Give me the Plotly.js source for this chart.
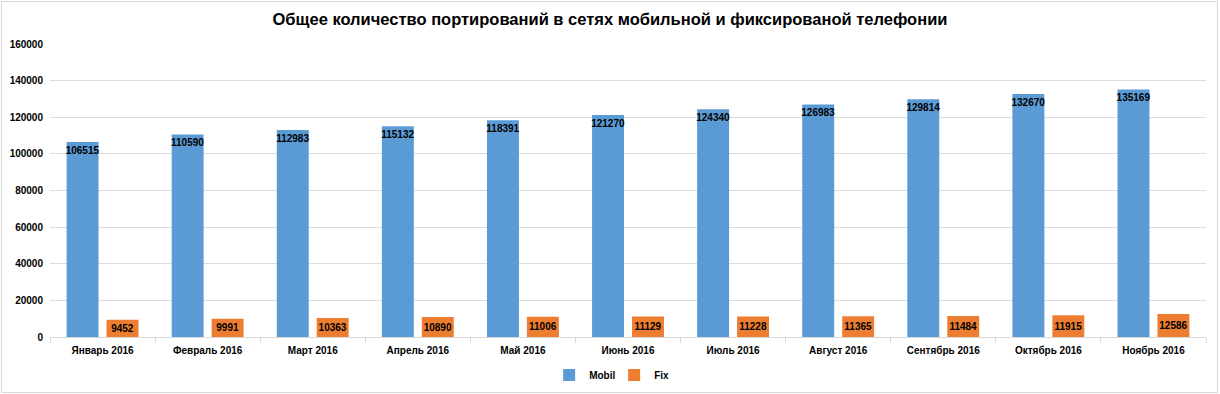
<!DOCTYPE html>
<html>
<head>
<meta charset="utf-8">
<script src="https://cdn.plot.ly/plotly-3.0.1.min.js"></script>
<style>
html,body{margin:0;padding:0;background:#fff;}
#chart{width:1220px;height:394px;}
#frame{position:absolute;left:1px;top:1px;width:1215px;height:390px;border:1px solid #d9d9d9;pointer-events:none;}
</style>
</head>
<body>
<div id="chart"></div>
<div id="frame"></div>
<script>
const categories = ["Январь 2016","Февраль 2016","Март 2016","Апрель 2016","Май 2016","Июнь 2016","Июль 2016","Август 2016","Сентябрь 2016","Октябрь 2016","Ноябрь 2016"];
const mobil = [106515,110590,112983,115132,118391,121270,124340,126983,129814,132670,135169];
const fix = [9452,9991,10363,10890,11006,11129,11228,11365,11484,11915,12586];
const yTicks = [0,20000,40000,60000,80000,100000,120000,140000,160000];

const FONT = "Liberation Sans, Arial, sans-serif";
const lblFont = {family: FONT, size: 10, color: "#000", weight: "bold"};

const traces = [
  {
    type: "bar", name: "Mobil", x: categories, y: mobil,
    text: mobil.map(String), textposition: "inside", insidetextanchor: "end",
    constraintext: "none", textangle: 0, textfont: lblFont,
    marker: {color: "#5B9BD5"}, hoverinfo: "none"
  },
  {
    type: "bar", name: "Fix", x: categories, y: fix,
    text: fix.map(String), textposition: "inside", insidetextanchor: "middle",
    constraintext: "none", textangle: 0, textfont: lblFont,
    marker: {color: "#ED7D31"}, hoverinfo: "none"
  }
];

const layout = {
  width: 1220, height: 394,
  margin: {l: 50, r: 14, t: 44, b: 57},
  paper_bgcolor: "#fff", plot_bgcolor: "#fff",
  title: {text: "Общее количество портирований в сетях мобильной и фиксированой телефонии",
          font: {family: FONT, size: 16.5, color: "#000", weight: "bold"},
          x: 0.5, xanchor: "center", y: 0.952, yanchor: "middle"},
  barmode: "group", bargap: 0.24, bargroupgap: 0.2,
  xaxis: {
    automargin: false,
    tickson: "boundaries", ticks: "outside", ticklen: 5, tickcolor: "#d9d9d9",
    showline: true, linecolor: "#d9d9d9", showgrid: false, ticklabelstandoff: 4,
    tickfont: {family: FONT, size: 10, color: "#000", weight: "bold"}
  },
  yaxis: {
    automargin: false,
    range: [0, 160000], tickvals: yTicks, ticktext: yTicks.map(String),
    showgrid: true, gridcolor: "#dcdcdc", zeroline: false, showline: false,
    tickfont: {family: FONT, size: 10, color: "#000", weight: "bold"},
    ticks: "", ticklabelstandoff: 6
  },
  legend: {orientation: "h", xref: "paper", x: 0.488, xanchor: "center",
           yref: "container", y: 0.048, yanchor: "middle",
           font: {family: FONT, size: 10, color: "#000", weight: "bold"},
           itemwidth: 30, traceorder: "normal", entrywidth: 20, entrywidthmode: "pixels"},
  showlegend: true
};

Plotly.newPlot("chart", traces, layout, {displayModeBar: false, staticPlot: true});
</script>
</body>
</html>
